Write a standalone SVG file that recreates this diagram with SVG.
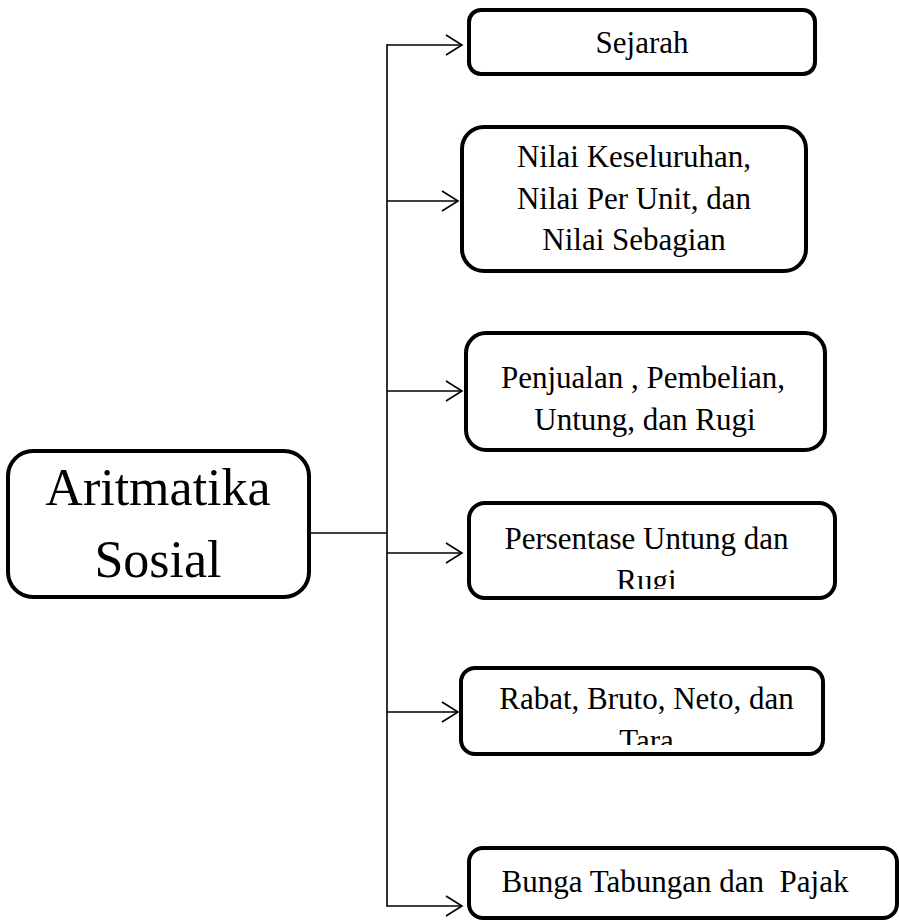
<svg xmlns="http://www.w3.org/2000/svg" width="899" height="921" viewBox="0 0 899 921">
<style>
.box{fill:#fff;stroke:#000;stroke-width:4}
.t{font-family:"Liberation Serif","Times New Roman",serif;font-size:31px;fill:#000;text-anchor:middle}
.big{font-size:52px}
.ln{fill:none;stroke:#000;stroke-width:1.6}
</style>
<defs>
<marker id="arr" viewBox="-18 -12 20 24" refX="0" refY="0" markerWidth="20" markerHeight="24" markerUnits="userSpaceOnUse" orient="auto">
<path d="M-16,-10 L0,0 L-16,10" fill="none" stroke="#000" stroke-width="1.6"/>
</marker>
<clipPath id="c4"><rect x="469" y="503" width="366" height="86"/></clipPath>
<clipPath id="c5"><rect x="461" y="668" width="362" height="77"/></clipPath>
</defs>
<rect width="899" height="921" fill="#fff"/>
<g id="connectors">
<line class="ln" x1="309" y1="533" x2="387" y2="533"/>
<line class="ln" x1="387" y1="44.2" x2="387" y2="906.8"/>
<line class="ln" x1="387" y1="45" x2="462" y2="45" marker-end="url(#arr)"/>
<line class="ln" x1="387" y1="201" x2="458" y2="201" marker-end="url(#arr)"/>
<line class="ln" x1="387" y1="391" x2="462" y2="391" marker-end="url(#arr)"/>
<line class="ln" x1="387" y1="553" x2="462" y2="553" marker-end="url(#arr)"/>
<line class="ln" x1="387" y1="712" x2="458" y2="712" marker-end="url(#arr)"/>
<line class="ln" x1="387" y1="906" x2="462" y2="906" marker-end="url(#arr)"/>
</g>
<g id="main">
<rect class="box" x="8" y="451" width="301" height="146" rx="25"/>
<text class="t big" x="158" y="505">Aritmatika</text>
<text class="t big" x="158" y="577">Sosial</text>
</g>
<g id="sejarah">
<rect class="box" x="469" y="10" width="346" height="64" rx="12"/>
<text class="t" x="642" y="53">Sejarah</text>
</g>
<g id="nilai">
<rect class="box" x="462" y="127" width="344" height="144" rx="22"/>
<text class="t" x="634" y="167">Nilai Keseluruhan,</text>
<text class="t" x="634" y="209">Nilai Per Unit, dan</text>
<text class="t" x="634" y="250">Nilai Sebagian</text>
</g>
<g id="penjualan">
<rect class="box" x="466" y="333" width="359" height="117" rx="20"/>
<text class="t" x="643" y="388">Penjualan , Pembelian,</text>
<text class="t" x="645" y="430">Untung, dan Rugi</text>
</g>
<g id="persentase">
<rect class="box" x="469" y="503" width="366" height="95" rx="16"/>
<g clip-path="url(#c4)">
<text class="t" x="646.5" y="549">Persentase Untung dan</text>
<text class="t" x="646.5" y="591">Rugi</text>
</g>
</g>
<g id="rabat">
<rect class="box" x="461" y="668" width="362" height="86" rx="14"/>
<g clip-path="url(#c5)">
<text class="t" x="646.5" y="709">Rabat, Bruto, Neto, dan</text>
<text class="t" x="646.5" y="751">Tara</text>
</g>
</g>
<g id="bunga">
<rect class="box" x="469" y="848" width="428" height="70" rx="14"/>
<text class="t" x="675" y="892" xml:space="preserve">Bunga Tabungan dan  Pajak</text>
</g>
</svg>
